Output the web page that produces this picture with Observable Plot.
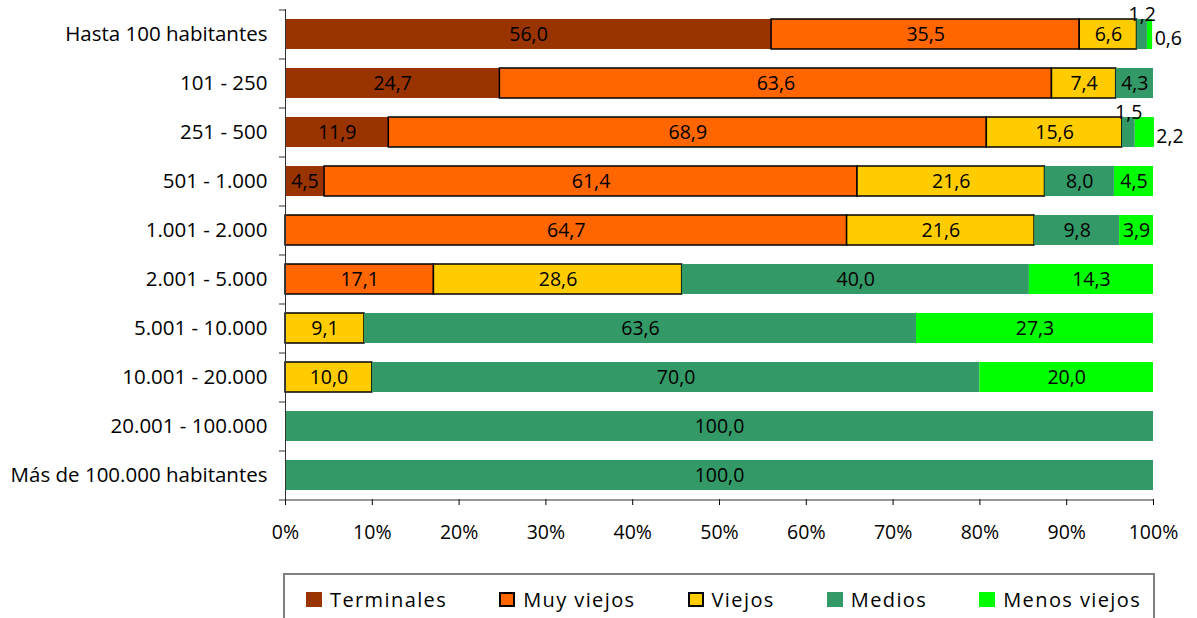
<!DOCTYPE html>
<html>
<head>
<meta charset="utf-8">
<script src="https://cdn.jsdelivr.net/npm/d3@7"></script>
<script src="https://cdn.jsdelivr.net/npm/@observablehq/plot@0.6"></script>
<style>
  html, body { margin: 0; padding: 0; background: #fff; }
  #wrap { position: relative; width: 1197px; height: 618px; overflow: hidden; }
  #legend { position: absolute; left: 283px; top: 573px; width: 872px; height: 60px;
    border: 2px solid #808080; box-sizing: border-box; display: flex; align-items: flex-start;
    padding-left: 21px; padding-top: 11px; font-family: "Open Sans", sans-serif; font-size: 20px;
    letter-spacing: 1.4px; color: #000; }
  .item { display: flex; align-items: center; margin-right: 52px; white-space: nowrap; }
  .sw { width: 16px; height: 15px; margin-right: 8px; box-sizing: border-box; }
  svg g[aria-label="y-axis tick label"] text { font-size: 20.5px; }
</style>
</head>
<body>
<div id="wrap"><div id="chart"></div><div id="legend"></div></div>
<script>
const categories = ["Hasta 100 habitantes", "101 - 250", "251 - 500", "501 - 1.000", "1.001 - 2.000",
  "2.001 - 5.000", "5.001 - 10.000", "10.001 - 20.000", "20.001 - 100.000", "Más de 100.000 habitantes"];
const series = ["Terminales", "Muy viejos", "Viejos", "Medios", "Menos viejos"];
const terminales  = [56.0, 24.7, 11.9, 4.5, 0, 0, 0, 0, 0, 0];
const muyViejos   = [35.5, 63.6, 68.9, 61.4, 64.7, 17.1, 0, 0, 0, 0];
const viejos      = [6.6, 7.4, 15.6, 21.6, 21.6, 28.6, 9.1, 10.0, 0, 0];
const medios      = [1.2, 4.3, 1.5, 8.0, 9.8, 40.0, 63.6, 70.0, 100.0, 100.0];
const menosViejos = [0.6, 0, 2.2, 4.5, 3.9, 14.3, 27.3, 20.0, 0, 0];
const colors = ["#993300", "#FF6600", "#FFCC00", "#339966", "#00FF00"];
const bordered = [false, true, true, false, false];
const xTicks = [0, 10, 20, 30, 40, 50, 60, 70, 80, 90, 100];

const valuesBySeries = [terminales, muyViejos, viejos, medios, menosViejos];
const table = [];
categories.forEach((cat, i) => {
  series.forEach((s, j) => {
    const v = valuesBySeries[j][i];
    if (v > 0) table.push({cat, series: s, value: v, border: bordered[j] ? 1 : 0});
  });
});
const fmt = v => v.toFixed(1).replace(".", ",");
const small = d => d.value < 2.5;
const stackOpts = {x: "value", y: "cat", z: "series", order: series};

const chart = Plot.plot({
  width: 1197, height: 565,
  marginLeft: 285, marginRight: 44, marginTop: 9, marginBottom: 66,
  style: {fontFamily: "Open Sans, sans-serif", fontSize: "19.5px", color: "#000", background: "white"},
  x: {domain: [0, 100], ticks: xTicks, tickFormat: d => d + "%", tickSize: 6, tickPadding: 20, label: null},
  y: {domain: categories, paddingInner: 0.39, paddingOuter: 0.195, tickSize: 0, tickPadding: 18, label: null},
  color: {domain: series, range: colors},
  opacity: {type: "identity"},
  marks: [
    Plot.barX(table, Plot.stackX({...stackOpts, fill: "series", stroke: "#000", strokeWidth: 1.5, strokeOpacity: "border"})),
    Plot.text(table, Plot.stackX({...stackOpts, text: d => small(d) ? "" : fmt(d.value), fill: "#000", fontSize: 19.5})),
    Plot.text(table, Plot.stackX({...stackOpts, text: d => small(d) && d.series === "Medios" ? fmt(d.value) : "", fill: "#000", fontSize: 19.5, dy: -20})),
    Plot.text(table, Plot.stackX2({...stackOpts, text: d => small(d) && d.series === "Menos viejos" ? fmt(d.value) : "", fill: "#000", fontSize: 19.5, textAnchor: "start", dx: 2, dy: 4})),
    Plot.ruleX([0], {stroke: "#333"}),
    Plot.ruleY(categories, {y: d => d, x1: -0.7, x2: 0, dy: -24.5, stroke: "#333"}),
    Plot.ruleY(categories.slice(-1), {y: d => d, x1: -0.7, x2: 100, dy: 24.5, stroke: "#333"})
  ]
});
document.getElementById("chart").appendChild(chart);

const legend = document.getElementById("legend");
series.forEach((s, j) => {
  const it = document.createElement("div");
  it.className = "item";
  const sw = document.createElement("div");
  sw.className = "sw";
  sw.style.background = colors[j];
  if (bordered[j]) sw.style.border = "2px solid #000";
  const tx = document.createElement("span");
  tx.textContent = s;
  it.appendChild(sw); it.appendChild(tx);
  legend.appendChild(it);
});
</script>
</body>
</html>
